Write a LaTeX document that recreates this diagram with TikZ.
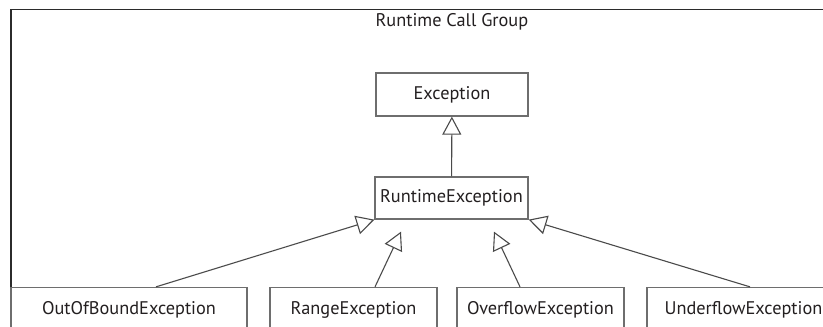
\documentclass[tikz,border=0pt]{standalone}
\usepackage{fontspec}
\setmainfont{PT Sans}
\usetikzlibrary{arrows.meta}
\definecolor{framecol}{HTML}{2B2B2B}
\definecolor{boxgray}{HTML}{6E6E6E}
\definecolor{linegray}{HTML}{4A4A4A}
\definecolor{txt}{HTML}{231F20}
\begin{document}
\begin{tikzpicture}[x=1pt,y=-1pt,
  lbl/.style={font=\fontsize{18.3}{21}\selectfont, text=txt},
  box/.style={lbl, draw=boxgray, line width=1.3pt, minimum height=43pt, inner sep=0pt},
  inherit/.style={draw=linegray, line width=1.1pt,
    -{Triangle[open,length=18pt,width=19pt]}},
]
\useasboundingbox (0,0) rectangle (823,327);
\clip (0,0) rectangle (823,327);
% enclosing group frame
\draw[framecol, line width=1.6pt] (11,9.5) rectangle (840,345);
\node[lbl] (title) at (452,22) {Runtime Call Group};
% classes
\node[box, minimum width=152pt] (ex) at (452,94.5) {Exception};
\node[box, minimum width=153pt, minimum height=42pt] (rt) at (451.5,198) {RuntimeException};
\node[box, minimum width=236pt, minimum height=44pt] (ob) at (129,309.5) {OutOfBoundException};
\node[box, minimum width=167pt, minimum height=44pt] (rg) at (353.5,309.5) {RangeException};
\node[box, minimum width=167pt, minimum height=44pt] (ov) at (540.5,309.5) {OverflowException};
\node[box, minimum width=193pt, minimum height=44pt] (uf) at (743.5,309.5) {UnderflowException};
% generalisations
\draw[inherit] (rt) -- (ex);
\draw[inherit] ([xshift=27pt]ob.north) -- (rt.south west);
\draw[inherit] ([xshift=21.5pt]rg.north) -- ([xshift=-50.5pt,yshift=-12pt]rt.south);
\draw[inherit] ([xshift=-20.5pt]ov.north) -- ([xshift=42.5pt,yshift=-12pt]rt.south);
\draw[inherit] ([xshift=6.5pt]uf.north) -- (rt.south east);
\end{tikzpicture}
\end{document}
